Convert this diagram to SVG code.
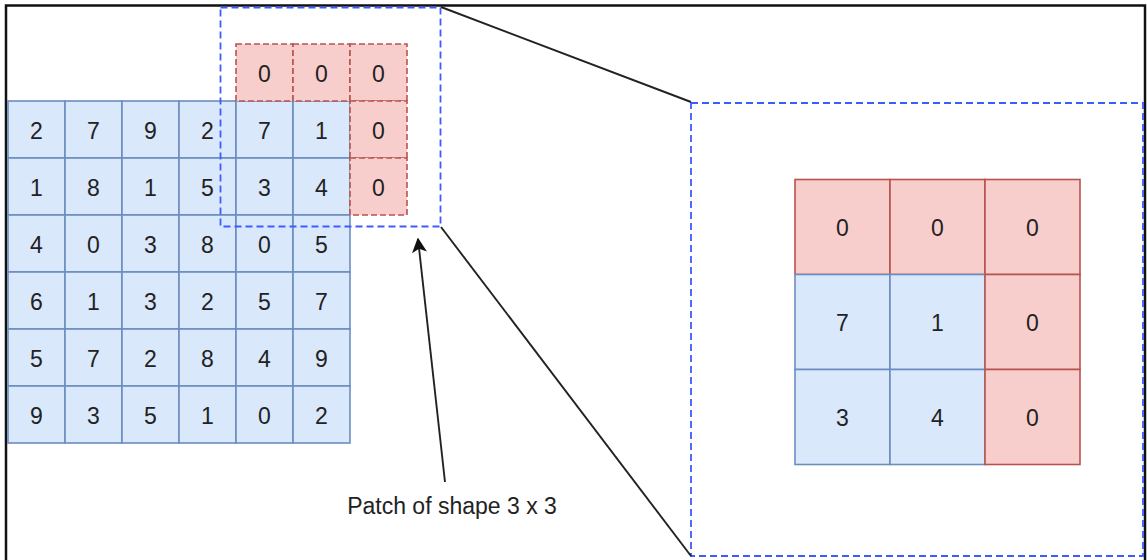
<svg xmlns="http://www.w3.org/2000/svg" width="1147" height="560" viewBox="0 0 1147 560">
<style>
.b{fill:#dae8fc;stroke:#6c8ebf;stroke-width:1.6}
.r{fill:#f8cecc;stroke:#b85450;stroke-width:1.6}
.rd{fill:#f8cecc;stroke:#b85450;stroke-width:1.6;stroke-dasharray:6 3}
.t{font-family:"Liberation Sans",Arial,sans-serif;font-size:23px;fill:#222;text-anchor:middle}
.sel{fill:none;stroke:#3d5cff;stroke-width:1.8;stroke-dasharray:7 4}
.ln{fill:none;stroke:#222;stroke-width:1.9}
</style>
<defs>
<marker id="ah" viewBox="0 0 10 10" refX="9" refY="5" markerWidth="15" markerHeight="15" markerUnits="userSpaceOnUse" orient="auto">
<path d="M0,0 L10,5 L0,10 L2.5,5 Z" fill="#111"/>
</marker>
</defs>
<rect x="0" y="0" width="1147" height="560" fill="#fff"/>
<rect x="6" y="5.5" width="1139" height="570" fill="none" stroke="#111" stroke-width="2.5"/>
<g id="input-grid">
<g id="c00"><rect class="b" x="8" y="101" width="57" height="57"/><text class="t" x="36.5" y="139">2</text></g>
<g id="c01"><rect class="b" x="65" y="101" width="57" height="57"/><text class="t" x="93.5" y="139">7</text></g>
<g id="c02"><rect class="b" x="122" y="101" width="57" height="57"/><text class="t" x="150.5" y="139">9</text></g>
<g id="c03"><rect class="b" x="179" y="101" width="57" height="57"/><text class="t" x="207.5" y="139">2</text></g>
<g id="c04"><rect class="b" x="236" y="101" width="57" height="57"/><text class="t" x="264.5" y="139">7</text></g>
<g id="c05"><rect class="b" x="293" y="101" width="57" height="57"/><text class="t" x="321.5" y="139">1</text></g>
<g id="c10"><rect class="b" x="8" y="158" width="57" height="57"/><text class="t" x="36.5" y="196">1</text></g>
<g id="c11"><rect class="b" x="65" y="158" width="57" height="57"/><text class="t" x="93.5" y="196">8</text></g>
<g id="c12"><rect class="b" x="122" y="158" width="57" height="57"/><text class="t" x="150.5" y="196">1</text></g>
<g id="c13"><rect class="b" x="179" y="158" width="57" height="57"/><text class="t" x="207.5" y="196">5</text></g>
<g id="c14"><rect class="b" x="236" y="158" width="57" height="57"/><text class="t" x="264.5" y="196">3</text></g>
<g id="c15"><rect class="b" x="293" y="158" width="57" height="57"/><text class="t" x="321.5" y="196">4</text></g>
<g id="c20"><rect class="b" x="8" y="215" width="57" height="57"/><text class="t" x="36.5" y="253">4</text></g>
<g id="c21"><rect class="b" x="65" y="215" width="57" height="57"/><text class="t" x="93.5" y="253">0</text></g>
<g id="c22"><rect class="b" x="122" y="215" width="57" height="57"/><text class="t" x="150.5" y="253">3</text></g>
<g id="c23"><rect class="b" x="179" y="215" width="57" height="57"/><text class="t" x="207.5" y="253">8</text></g>
<g id="c24"><rect class="b" x="236" y="215" width="57" height="57"/><text class="t" x="264.5" y="253">0</text></g>
<g id="c25"><rect class="b" x="293" y="215" width="57" height="57"/><text class="t" x="321.5" y="253">5</text></g>
<g id="c30"><rect class="b" x="8" y="272" width="57" height="57"/><text class="t" x="36.5" y="310">6</text></g>
<g id="c31"><rect class="b" x="65" y="272" width="57" height="57"/><text class="t" x="93.5" y="310">1</text></g>
<g id="c32"><rect class="b" x="122" y="272" width="57" height="57"/><text class="t" x="150.5" y="310">3</text></g>
<g id="c33"><rect class="b" x="179" y="272" width="57" height="57"/><text class="t" x="207.5" y="310">2</text></g>
<g id="c34"><rect class="b" x="236" y="272" width="57" height="57"/><text class="t" x="264.5" y="310">5</text></g>
<g id="c35"><rect class="b" x="293" y="272" width="57" height="57"/><text class="t" x="321.5" y="310">7</text></g>
<g id="c40"><rect class="b" x="8" y="329" width="57" height="57"/><text class="t" x="36.5" y="367">5</text></g>
<g id="c41"><rect class="b" x="65" y="329" width="57" height="57"/><text class="t" x="93.5" y="367">7</text></g>
<g id="c42"><rect class="b" x="122" y="329" width="57" height="57"/><text class="t" x="150.5" y="367">2</text></g>
<g id="c43"><rect class="b" x="179" y="329" width="57" height="57"/><text class="t" x="207.5" y="367">8</text></g>
<g id="c44"><rect class="b" x="236" y="329" width="57" height="57"/><text class="t" x="264.5" y="367">4</text></g>
<g id="c45"><rect class="b" x="293" y="329" width="57" height="57"/><text class="t" x="321.5" y="367">9</text></g>
<g id="c50"><rect class="b" x="8" y="386" width="57" height="57"/><text class="t" x="36.5" y="424">9</text></g>
<g id="c51"><rect class="b" x="65" y="386" width="57" height="57"/><text class="t" x="93.5" y="424">3</text></g>
<g id="c52"><rect class="b" x="122" y="386" width="57" height="57"/><text class="t" x="150.5" y="424">5</text></g>
<g id="c53"><rect class="b" x="179" y="386" width="57" height="57"/><text class="t" x="207.5" y="424">1</text></g>
<g id="c54"><rect class="b" x="236" y="386" width="57" height="57"/><text class="t" x="264.5" y="424">0</text></g>
<g id="c55"><rect class="b" x="293" y="386" width="57" height="57"/><text class="t" x="321.5" y="424">2</text></g>
</g>
<g id="padding">
<g id="p0"><rect class="rd" x="236" y="44" width="57" height="57"/><text class="t" x="264.5" y="82">0</text></g>
<g id="p1"><rect class="rd" x="293" y="44" width="57" height="57"/><text class="t" x="321.5" y="82">0</text></g>
<g id="p2"><rect class="rd" x="350" y="44" width="57" height="57"/><text class="t" x="378.5" y="82">0</text></g>
<g id="p3"><rect class="rd" x="350" y="101" width="57" height="57"/><text class="t" x="378.5" y="139">0</text></g>
<g id="p4"><rect class="rd" x="350" y="158" width="57" height="57"/><text class="t" x="378.5" y="196">0</text></g>
</g>
<g id="patch-box"><rect class="sel" x="220.5" y="7.5" width="220" height="219"/></g>
<g id="zoom-box"><rect class="sel" x="691" y="103" width="452" height="453"/></g>
<g id="patch-grid">
<g id="z00"><rect class="r" x="795" y="179.5" width="95" height="95"/><text class="t" x="842.5" y="236">0</text></g>
<g id="z01"><rect class="r" x="890" y="179.5" width="95" height="95"/><text class="t" x="937.5" y="236">0</text></g>
<g id="z02"><rect class="r" x="985" y="179.5" width="95" height="95"/><text class="t" x="1032.5" y="236">0</text></g>
<g id="z10"><rect class="b" x="795" y="274.5" width="95" height="95"/><text class="t" x="842.5" y="331">7</text></g>
<g id="z11"><rect class="b" x="890" y="274.5" width="95" height="95"/><text class="t" x="937.5" y="331">1</text></g>
<g id="z12"><rect class="r" x="985" y="274.5" width="95" height="95"/><text class="t" x="1032.5" y="331">0</text></g>
<g id="z20"><rect class="b" x="795" y="369.5" width="95" height="95"/><text class="t" x="842.5" y="426">3</text></g>
<g id="z21"><rect class="b" x="890" y="369.5" width="95" height="95"/><text class="t" x="937.5" y="426">4</text></g>
<g id="z22"><rect class="r" x="985" y="369.5" width="95" height="95"/><text class="t" x="1032.5" y="426">0</text></g>
</g>
<g id="label"><text class="t" x="452" y="514">Patch of shape 3 x 3</text></g>
<g id="connectors">
<line class="ln" x1="441" y1="7" x2="691" y2="102"/>
<line class="ln" x1="441" y1="227" x2="691" y2="556"/>
<line class="ln" x1="445" y1="482" x2="418" y2="239" marker-end="url(#ah)"/>
</g>
</svg>
